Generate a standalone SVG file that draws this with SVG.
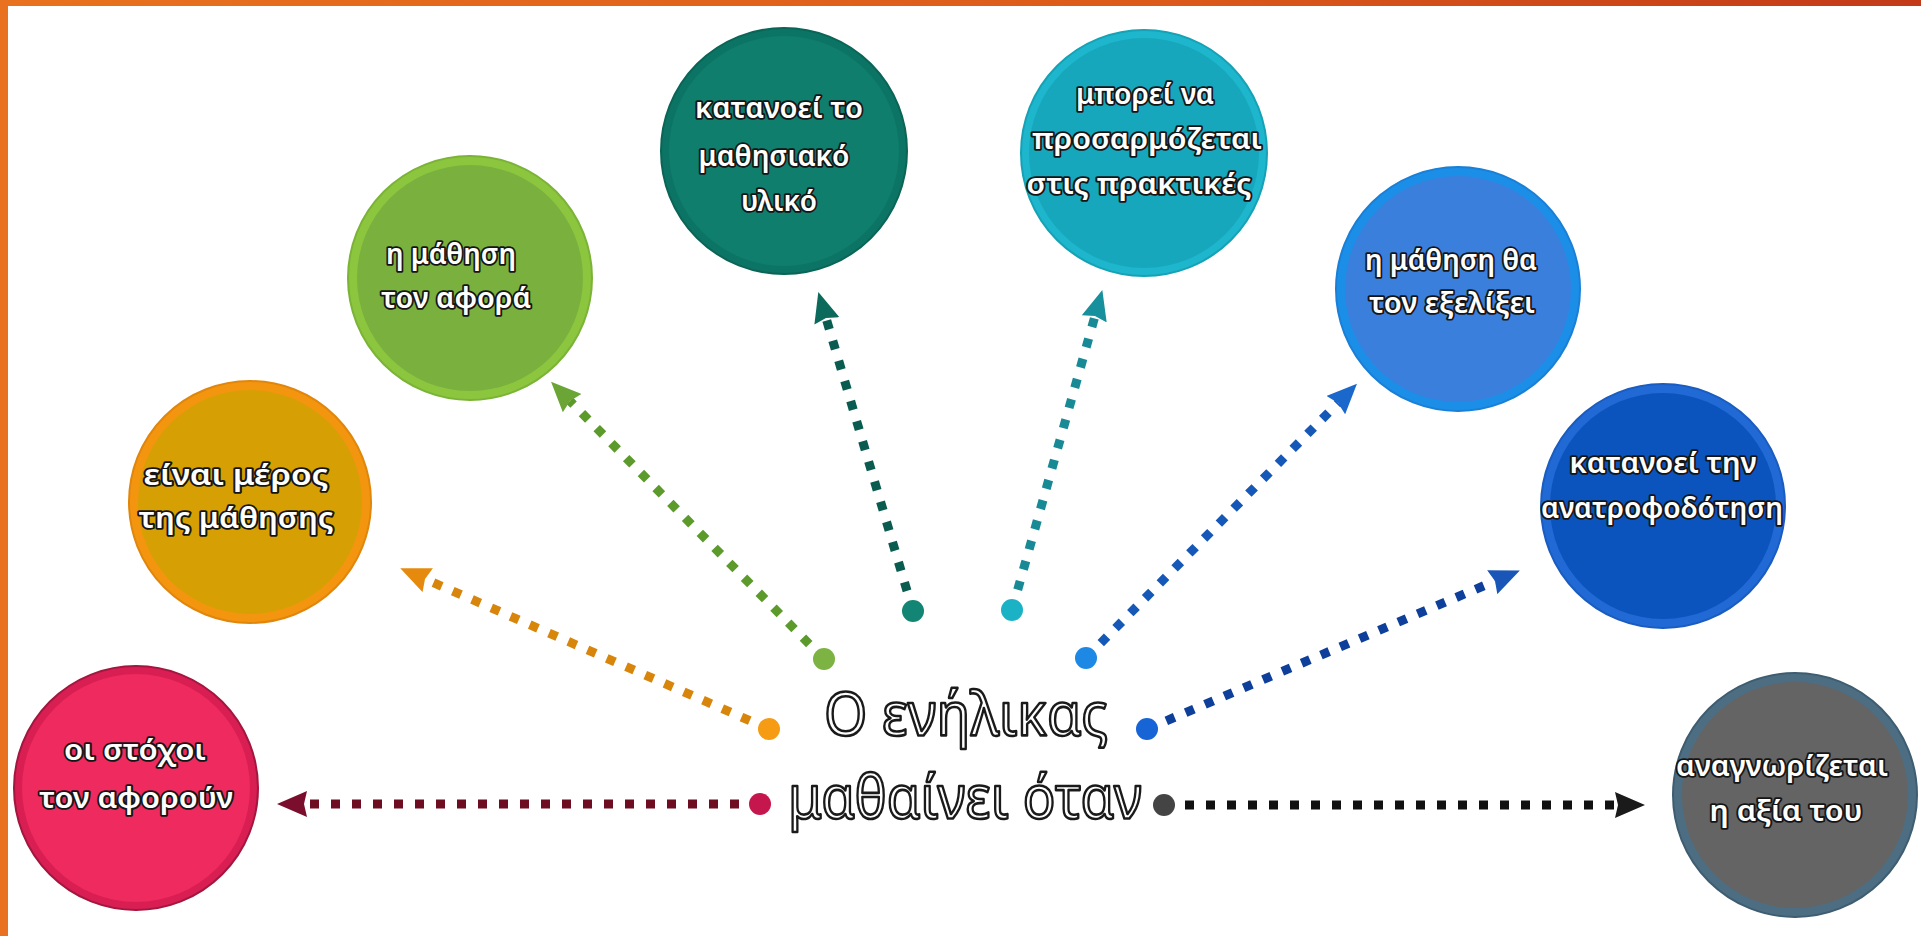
<svg xmlns="http://www.w3.org/2000/svg" width="1921" height="936" viewBox="0 0 1921 936">
<defs>
  <style>
    .lbl{font-family:"Noto Sans","DejaVu Sans",sans-serif;font-size:28px;font-weight:600;fill:#ffffff;stroke:#151515;stroke-width:3.6px;paint-order:stroke;stroke-linejoin:round;text-anchor:middle}
    .title{font-family:"Noto Sans","DejaVu Sans",sans-serif;font-size:60px;fill:#ffffff;stroke:#1a1a1a;stroke-width:2.6px;stroke-linejoin:round;text-anchor:middle}
    .dash{fill:none;stroke-width:9;stroke-dasharray:9 12}
    .rim{stroke-width:2}
  </style>
  <linearGradient id="topg" x1="0" y1="0" x2="1" y2="0">
    <stop offset="0" stop-color="#e8721f"/>
    <stop offset="0.6" stop-color="#dc5a1a"/>
    <stop offset="1" stop-color="#c23a18"/>
  </linearGradient>
  <marker id="ah-maroon" viewBox="0 0 30 26" refX="3" refY="13" markerWidth="30" markerHeight="26" markerUnits="userSpaceOnUse" orient="auto"><path d="M0,0 L30,13 L0,26 L3,13 z" fill="#7a0e2c"/></marker>
  <marker id="ah-orange" viewBox="0 0 30 26" refX="3" refY="13" markerWidth="30" markerHeight="26" markerUnits="userSpaceOnUse" orient="auto"><path d="M0,0 L30,13 L0,26 L3,13 z" fill="#e68a0e"/></marker>
  <marker id="ah-green" viewBox="0 0 30 26" refX="3" refY="13" markerWidth="30" markerHeight="26" markerUnits="userSpaceOnUse" orient="auto"><path d="M0,0 L30,13 L0,26 L3,13 z" fill="#6aa536"/></marker>
  <marker id="ah-teal" viewBox="0 0 30 26" refX="3" refY="13" markerWidth="30" markerHeight="26" markerUnits="userSpaceOnUse" orient="auto"><path d="M0,0 L30,13 L0,26 L3,13 z" fill="#0c6a5c"/></marker>
  <marker id="ah-cyan" viewBox="0 0 30 26" refX="3" refY="13" markerWidth="30" markerHeight="26" markerUnits="userSpaceOnUse" orient="auto"><path d="M0,0 L30,13 L0,26 L3,13 z" fill="#17909e"/></marker>
  <marker id="ah-blue" viewBox="0 0 30 26" refX="3" refY="13" markerWidth="30" markerHeight="26" markerUnits="userSpaceOnUse" orient="auto"><path d="M0,0 L30,13 L0,26 L3,13 z" fill="#1a68cc"/></marker>
  <marker id="ah-navy" viewBox="0 0 30 26" refX="3" refY="13" markerWidth="30" markerHeight="26" markerUnits="userSpaceOnUse" orient="auto"><path d="M0,0 L30,13 L0,26 L3,13 z" fill="#1a56b8"/></marker>
  <marker id="ah-black" viewBox="0 0 30 26" refX="3" refY="13" markerWidth="30" markerHeight="26" markerUnits="userSpaceOnUse" orient="auto"><path d="M0,0 L30,13 L0,26 L3,13 z" fill="#1a1a1a"/></marker>
</defs>

<rect x="0" y="0" width="1921" height="936" fill="#ffffff"/>
<rect x="0" y="0" width="1921" height="6" fill="url(#topg)"/>
<rect x="0" y="0" width="8" height="936" fill="#e8721f"/>

<g id="connectors">
  <line class="dash" x1="760" y1="804" x2="304" y2="804" stroke="#6e0c22" marker-end="url(#ah-maroon)"/>
  <line class="dash" x1="769" y1="729" x2="425" y2="579" stroke="#d8850c" marker-end="url(#ah-orange)"/>
  <line class="dash" x1="824" y1="659" x2="570" y2="401" stroke="#5c9a2c" marker-end="url(#ah-green)"/>
  <line class="dash" x1="913" y1="611" x2="826" y2="318" stroke="#0a5c50" marker-end="url(#ah-teal)"/>
  <line class="dash" x1="1012" y1="610" x2="1095" y2="316" stroke="#178a96" marker-end="url(#ah-cyan)"/>
  <line class="dash" x1="1086" y1="658" x2="1338" y2="403" stroke="#1658b8" marker-end="url(#ah-blue)"/>
  <line class="dash" x1="1147" y1="729" x2="1495" y2="581" stroke="#0e3f9a" marker-end="url(#ah-navy)"/>
  <line class="dash" x1="1164" y1="805" x2="1618" y2="805" stroke="#111111" marker-end="url(#ah-black)"/>
  <circle cx="760" cy="804" r="11" fill="#c5174d"/>
  <circle cx="769" cy="729" r="11" fill="#f59b14"/>
  <circle cx="824" cy="659" r="11" fill="#7cb342"/>
  <circle cx="913" cy="611" r="11" fill="#128574"/>
  <circle cx="1012" cy="610" r="11" fill="#1cb2c6"/>
  <circle cx="1086" cy="658" r="11" fill="#1e88e5"/>
  <circle cx="1147" cy="729" r="11" fill="#1664d6"/>
  <circle cx="1164" cy="805" r="11" fill="#444444"/>
</g>

<g id="center-text">
  <text class="title" x="966" y="735" textLength="284" lengthAdjust="spacingAndGlyphs">Ο ενήλικας</text>
  <text class="title" x="965" y="818" textLength="354" lengthAdjust="spacingAndGlyphs">μαθαίνει όταν</text>
</g>

<g id="node-goals">
  <circle cx="136" cy="788" r="122" fill="#d81e52" stroke="#a3173f" class="rim"/>
  <circle cx="136" cy="788" r="114" fill="#ee2a5e"/>
  <text class="lbl" x="135" y="760" textLength="142" lengthAdjust="spacingAndGlyphs">οι στόχοι</text>
  <text class="lbl" x="136" y="808" textLength="194" lengthAdjust="spacingAndGlyphs">τον αφορούν</text>
</g>

<g id="node-part">
  <circle cx="250" cy="502" r="121" fill="#f4950f" stroke="#e0860c" class="rim"/>
  <circle cx="250" cy="502" r="112" fill="#d6a004"/>
  <text class="lbl" x="236" y="485" textLength="185" lengthAdjust="spacingAndGlyphs">είναι μέρος</text>
  <text class="lbl" x="236" y="528" textLength="195" lengthAdjust="spacingAndGlyphs">της μάθησης</text>
</g>

<g id="node-concerns">
  <circle cx="470" cy="278" r="122" fill="#8cc63f" stroke="#7ab336" class="rim"/>
  <circle cx="470" cy="278" r="113" fill="#7ab03e"/>
  <text class="lbl" x="451" y="264" textLength="130" lengthAdjust="spacingAndGlyphs">η μάθηση</text>
  <text class="lbl" x="456" y="308" textLength="150" lengthAdjust="spacingAndGlyphs">τον αφορά</text>
</g>

<g id="node-material">
  <circle cx="784" cy="151" r="123" fill="#0c7464" stroke="#0a6557" class="rim"/>
  <circle cx="784" cy="151" r="115" fill="#0f7e6d"/>
  <text class="lbl" x="779" y="118" textLength="168" lengthAdjust="spacingAndGlyphs">κατανοεί το</text>
  <text class="lbl" x="774" y="166" textLength="151" lengthAdjust="spacingAndGlyphs">μαθησιακό</text>
  <text class="lbl" x="779" y="211" textLength="76" lengthAdjust="spacingAndGlyphs">υλικό</text>
</g>

<g id="node-adapt">
  <circle cx="1144" cy="153" r="123" fill="#1db6cc" stroke="#16a2b6" class="rim"/>
  <circle cx="1144" cy="153" r="115" fill="#17a7bd"/>
  <text class="lbl" x="1145" y="104" textLength="138" lengthAdjust="spacingAndGlyphs">μπορεί να</text>
  <text class="lbl" x="1147" y="149" textLength="230" lengthAdjust="spacingAndGlyphs">προσαρμόζεται</text>
  <text class="lbl" x="1139" y="194" textLength="225" lengthAdjust="spacingAndGlyphs">στις πρακτικές</text>
</g>

<g id="node-evolve">
  <circle cx="1458" cy="289" r="122" fill="#1b8fe8" stroke="#1a7fd6" class="rim"/>
  <circle cx="1458" cy="289" r="113" fill="#3b7fdd"/>
  <text class="lbl" x="1451" y="270" textLength="172" lengthAdjust="spacingAndGlyphs">η μάθηση θα</text>
  <text class="lbl" x="1452" y="313" textLength="166" lengthAdjust="spacingAndGlyphs">τον εξελίξει</text>
</g>

<g id="node-feedback">
  <circle cx="1663" cy="506" r="122" fill="#2169d4" stroke="#1a5cc0" class="rim"/>
  <circle cx="1663" cy="506" r="113" fill="#0b54be"/>
  <text class="lbl" x="1663" y="473" textLength="187" lengthAdjust="spacingAndGlyphs">κατανοεί την</text>
  <text class="lbl" x="1662" y="518" textLength="242" lengthAdjust="spacingAndGlyphs">ανατροφοδότηση</text>
</g>

<g id="node-value">
  <circle cx="1795" cy="795" r="122" fill="#4d6e82" stroke="#3f5d70" class="rim"/>
  <circle cx="1795" cy="795" r="113" fill="#646464"/>
  <text class="lbl" x="1782" y="776" textLength="212" lengthAdjust="spacingAndGlyphs">αναγνωρίζεται</text>
  <text class="lbl" x="1786" y="821" textLength="153" lengthAdjust="spacingAndGlyphs">η αξία του</text>
</g>
</svg>
